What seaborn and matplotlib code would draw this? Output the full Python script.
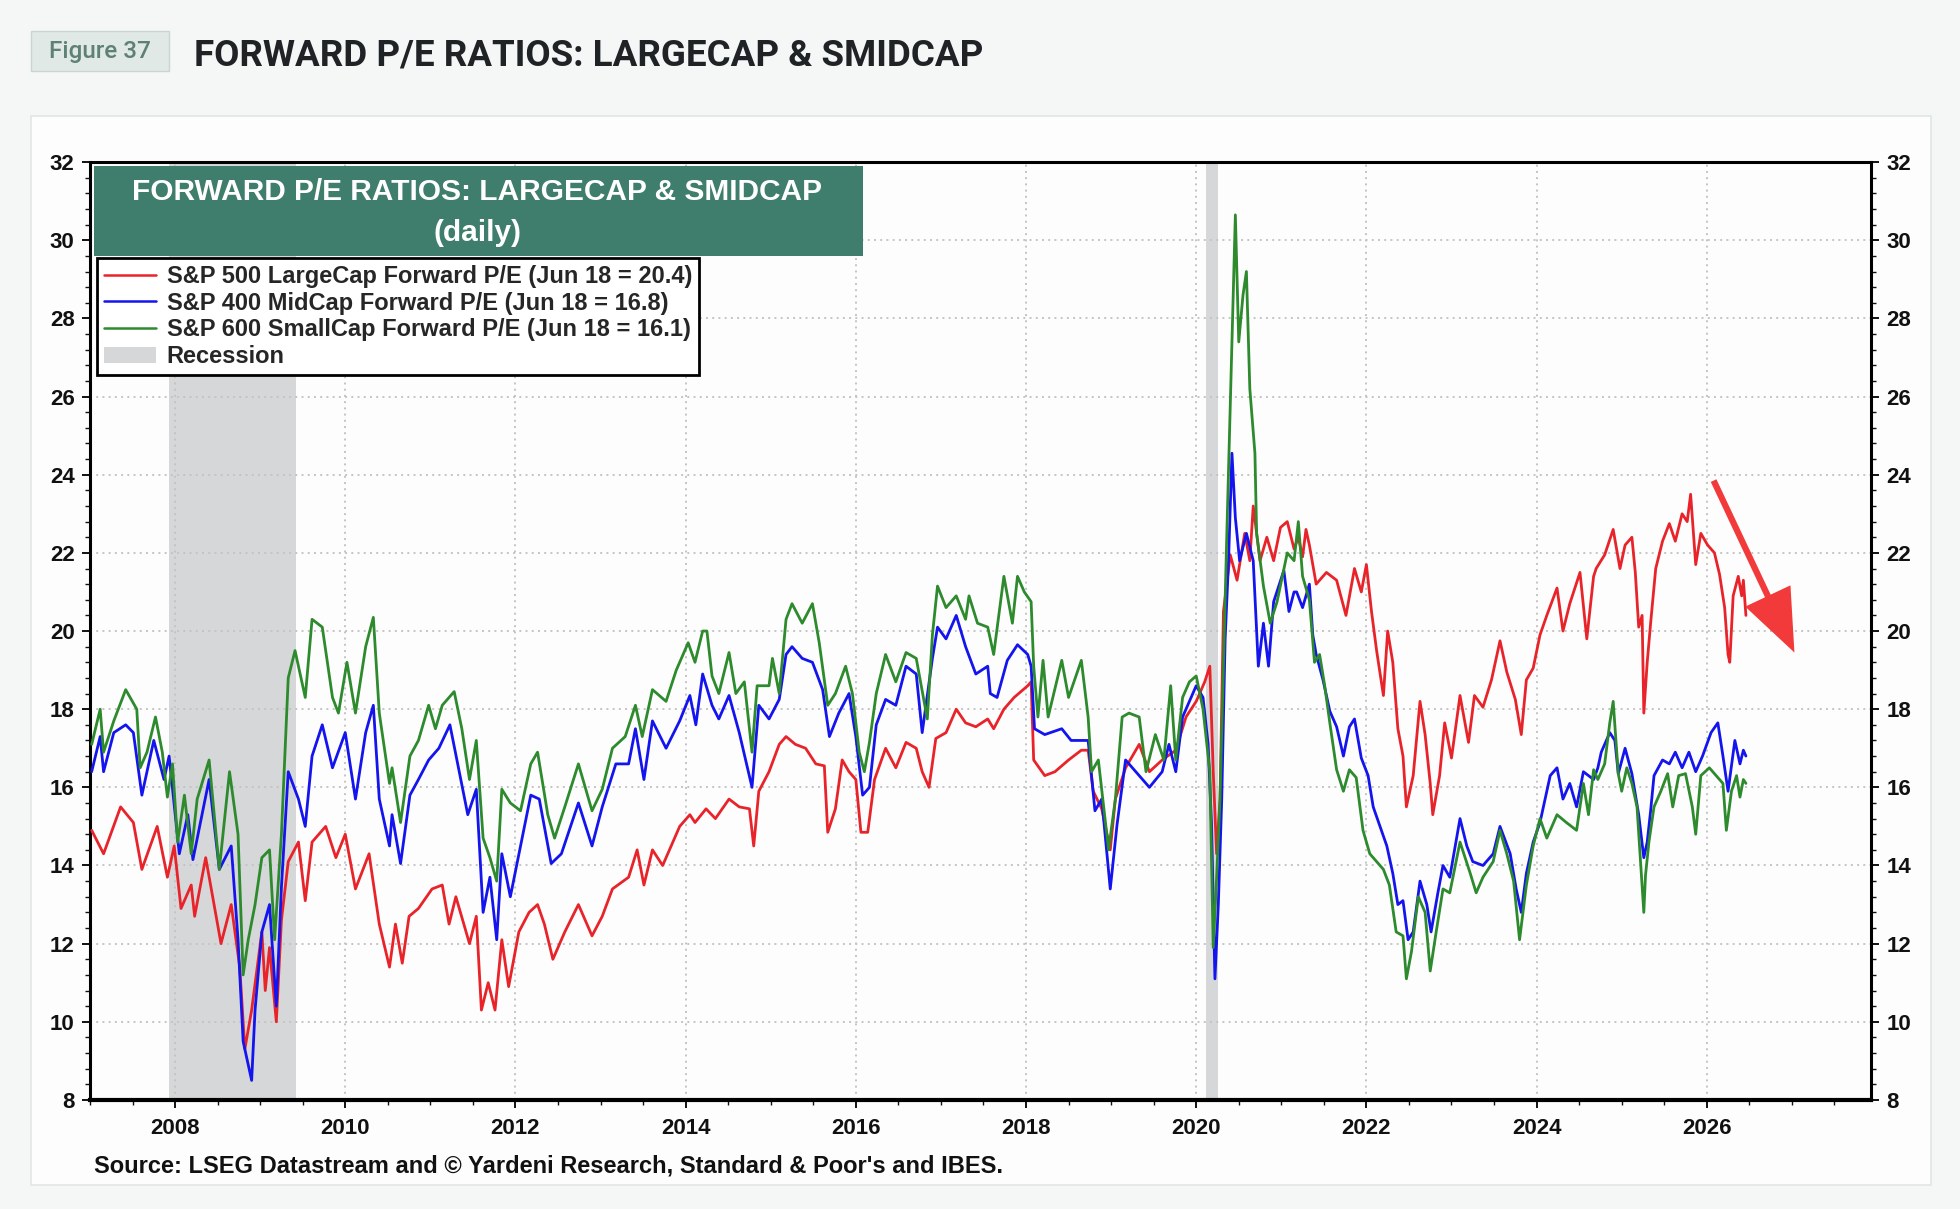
import matplotlib
matplotlib.use("Agg")
import matplotlib.pyplot as plt
from matplotlib.patches import Rectangle, Patch
from matplotlib.lines import Line2D
from matplotlib.ticker import MultipleLocator
import pandas as pd
import seaborn as sns

sns.set_theme(style="white")
plt.rcParams['font.family'] = ['Liberation Sans', 'DejaVu Sans']

# ---- data (decimal year, forward P/E) ----
sp500_year = [
    2007.02, 2007.16, 2007.36, 2007.51, 2007.61, 2007.79, 2007.91, 2007.99, 2008.07, 2008.19,
    2008.23, 2008.36, 2008.54, 2008.66, 2008.76, 2008.82, 2008.90, 2009.02, 2009.06, 2009.11,
    2009.19, 2009.25, 2009.33, 2009.45, 2009.53, 2009.61, 2009.77, 2009.89, 2010.00, 2010.12,
    2010.28, 2010.40, 2010.52, 2010.59, 2010.67, 2010.75, 2010.86, 2011.02, 2011.14, 2011.22,
    2011.30, 2011.46, 2011.54, 2011.60, 2011.68, 2011.76, 2011.84, 2011.92, 2012.04, 2012.16,
    2012.26, 2012.34, 2012.44, 2012.58, 2012.74, 2012.90, 2013.02, 2013.14, 2013.33, 2013.43,
    2013.51, 2013.61, 2013.73, 2013.81, 2013.93, 2014.05, 2014.11, 2014.24, 2014.35, 2014.51,
    2014.63, 2014.75, 2014.80, 2014.86, 2014.98, 2015.10, 2015.18, 2015.29, 2015.41, 2015.53,
    2015.63, 2015.67, 2015.76, 2015.84, 2015.92, 2016.00, 2016.06, 2016.14, 2016.22, 2016.35,
    2016.47, 2016.59, 2016.71, 2016.78, 2016.86, 2016.94, 2017.06, 2017.18, 2017.29, 2017.41,
    2017.55, 2017.62, 2017.74, 2017.86, 2018.02, 2018.06, 2018.09, 2018.22, 2018.34, 2018.50,
    2018.65, 2018.73, 2018.79, 2018.89, 2018.99, 2019.05, 2019.17, 2019.33, 2019.45, 2019.60,
    2019.76, 2019.88, 2020.00, 2020.10, 2020.16, 2020.20, 2020.24, 2020.28, 2020.32, 2020.40,
    2020.48, 2020.57, 2020.63, 2020.67, 2020.75, 2020.83, 2020.91, 2020.99, 2021.07, 2021.15,
    2021.20, 2021.25, 2021.29, 2021.33, 2021.41, 2021.53, 2021.65, 2021.76, 2021.86, 2021.94,
    2022.00, 2022.06, 2022.12, 2022.20, 2022.25, 2022.31, 2022.37, 2022.43, 2022.47, 2022.55,
    2022.63, 2022.69, 2022.75, 2022.78, 2022.86, 2022.92, 2023.00, 2023.10, 2023.20, 2023.27,
    2023.37, 2023.47, 2023.57, 2023.65, 2023.75, 2023.82, 2023.88, 2023.96, 2024.04, 2024.12,
    2024.24, 2024.31, 2024.39, 2024.51, 2024.59, 2024.67, 2024.70, 2024.80, 2024.90, 2024.98,
    2025.04, 2025.12, 2025.16, 2025.20, 2025.24, 2025.26, 2025.30, 2025.34, 2025.40, 2025.48,
    2025.56, 2025.63, 2025.71, 2025.77, 2025.81, 2025.87, 2025.93, 2026.01, 2026.09, 2026.15,
    2026.21, 2026.25, 2026.27, 2026.31, 2026.37, 2026.41, 2026.43, 2026.46]
sp500_pe = [
    14.9, 14.3, 15.5, 15.1, 13.9, 15.0, 13.7, 14.5, 12.9, 13.5,
    12.7, 14.2, 12.0, 13.0, 11.4, 9.3, 10.3, 12.3, 10.8, 11.9,
    10.0, 12.6, 14.1, 14.6, 13.1, 14.6, 15.0, 14.2, 14.8, 13.4,
    14.3, 12.5, 11.4, 12.5, 11.5, 12.7, 12.9, 13.4, 13.5, 12.5,
    13.2, 12.0, 12.7, 10.3, 11.0, 10.3, 12.1, 10.9, 12.3, 12.8,
    13.0, 12.5, 11.6, 12.3, 13.0, 12.2, 12.7, 13.4, 13.7, 14.4,
    13.5, 14.4, 14.0, 14.4, 15.0, 15.3, 15.1, 15.45, 15.2, 15.7,
    15.5, 15.45, 14.5, 15.9, 16.4, 17.1, 17.3, 17.1, 17.0, 16.6,
    16.55, 14.85, 15.45, 16.7, 16.4, 16.2, 14.85, 14.85, 16.2, 17.0,
    16.5, 17.15, 17.0, 16.4, 16.0, 17.25, 17.4, 18.0, 17.65, 17.55,
    17.75, 17.5, 18.0, 18.3, 18.6, 18.7, 16.7, 16.3, 16.4, 16.7,
    16.95, 16.95, 15.9, 15.45, 14.4, 15.7, 16.5, 17.1, 16.4, 16.7,
    16.95, 17.8, 18.2, 18.7, 19.1, 16.4, 14.3, 15.7, 20.5, 21.95,
    21.3, 22.5, 21.8, 23.2, 21.8, 22.4, 21.8, 22.65, 22.8, 22.1,
    22.4, 21.9, 22.6, 22.2, 21.2, 21.5, 21.3, 20.4, 21.6, 21.0,
    21.7, 20.5, 19.5, 18.35, 20.0, 19.2, 17.5, 16.8, 15.5, 16.3,
    18.2, 17.35, 16.1, 15.3, 16.3, 17.65, 16.75, 18.35, 17.15, 18.35,
    18.05, 18.75, 19.75, 18.95, 18.25, 17.35, 18.75, 19.05, 19.9, 20.4,
    21.1, 20.0, 20.7, 21.5, 19.8, 21.4, 21.6, 21.95, 22.6, 21.6,
    22.2, 22.4, 21.5, 20.1, 20.4, 17.9, 19.2, 20.2, 21.6, 22.3,
    22.75, 22.3, 23.0, 22.8, 23.5, 21.7, 22.5, 22.2, 22.0, 21.45,
    20.6, 19.4, 19.2, 20.9, 21.4, 20.9, 21.3, 20.4]

sp400_year = [
    2007.02, 2007.12, 2007.16, 2007.28, 2007.42, 2007.51, 2007.61, 2007.75, 2007.87, 2007.93,
    2008.05, 2008.15, 2008.21, 2008.40, 2008.52, 2008.66, 2008.74, 2008.80, 2008.90, 2008.94,
    2009.02, 2009.11, 2009.19, 2009.25, 2009.33, 2009.45, 2009.53, 2009.61, 2009.73, 2009.85,
    2010.00, 2010.12, 2010.24, 2010.33, 2010.40, 2010.52, 2010.55, 2010.65, 2010.76, 2010.86,
    2010.98, 2011.10, 2011.23, 2011.33, 2011.44, 2011.54, 2011.62, 2011.70, 2011.78, 2011.84,
    2011.94, 2012.06, 2012.18, 2012.28, 2012.42, 2012.54, 2012.74, 2012.90, 2013.02, 2013.18,
    2013.33, 2013.41, 2013.51, 2013.61, 2013.77, 2013.93, 2014.05, 2014.12, 2014.20, 2014.31,
    2014.39, 2014.51, 2014.63, 2014.78, 2014.86, 2014.98, 2015.10, 2015.18, 2015.25, 2015.37,
    2015.49, 2015.61, 2015.69, 2015.80, 2015.92, 2016.00, 2016.08, 2016.16, 2016.24, 2016.35,
    2016.47, 2016.59, 2016.71, 2016.78, 2016.90, 2016.96, 2017.06, 2017.18, 2017.29, 2017.41,
    2017.55, 2017.58, 2017.66, 2017.78, 2017.90, 2018.02, 2018.06, 2018.10, 2018.22, 2018.42,
    2018.53, 2018.73, 2018.81, 2018.89, 2018.99, 2019.07, 2019.17, 2019.29, 2019.45, 2019.60,
    2019.68, 2019.76, 2019.84, 2020.00, 2020.08, 2020.14, 2020.18, 2020.22, 2020.26, 2020.30,
    2020.34, 2020.38, 2020.42, 2020.46, 2020.51, 2020.59, 2020.67, 2020.73, 2020.79, 2020.85,
    2020.91, 2021.03, 2021.09, 2021.15, 2021.18, 2021.25, 2021.33, 2021.37, 2021.41, 2021.49,
    2021.57, 2021.65, 2021.73, 2021.80, 2021.86, 2021.94, 2022.02, 2022.08, 2022.16, 2022.24,
    2022.31, 2022.37, 2022.43, 2022.49, 2022.55, 2022.63, 2022.71, 2022.76, 2022.84, 2022.90,
    2022.98, 2023.10, 2023.18, 2023.25, 2023.37, 2023.49, 2023.57, 2023.69, 2023.76, 2023.82,
    2023.88, 2023.96, 2024.04, 2024.16, 2024.24, 2024.31, 2024.39, 2024.47, 2024.55, 2024.67,
    2024.72, 2024.76, 2024.86, 2024.92, 2024.96, 2025.04, 2025.12, 2025.20, 2025.26, 2025.30,
    2025.34, 2025.38, 2025.48, 2025.56, 2025.63, 2025.71, 2025.79, 2025.87, 2025.95, 2026.05,
    2026.13, 2026.19, 2026.25, 2026.33, 2026.39, 2026.43, 2026.46]
sp400_pe = [
    16.4, 17.3, 16.4, 17.4, 17.6, 17.4, 15.8, 17.2, 16.2, 16.8,
    14.3, 15.3, 14.15, 16.2, 13.9, 14.5, 12.1, 9.5, 8.5, 10.3,
    12.3, 13.0, 10.4, 13.45, 16.4, 15.7, 15.0, 16.8, 17.6, 16.5,
    17.4, 15.7, 17.4, 18.1, 15.7, 14.5, 15.3, 14.05, 15.8, 16.2,
    16.7, 17.0, 17.6, 16.5, 15.3, 15.95, 12.8, 13.7, 12.1, 14.3,
    13.2, 14.5, 15.8, 15.7, 14.05, 14.3, 15.6, 14.5, 15.5, 16.6,
    16.6, 17.5, 16.2, 17.7, 17.0, 17.7, 18.35, 17.6, 18.9, 18.1,
    17.75, 18.35, 17.4, 16.0, 18.1, 17.75, 18.25, 19.4, 19.6, 19.3,
    19.2, 18.5, 17.3, 17.9, 18.4, 17.3, 15.8, 16.0, 17.6, 18.25,
    18.1, 19.1, 18.9, 17.4, 19.3, 20.1, 19.8, 20.4, 19.6, 18.9,
    19.1, 18.4, 18.3, 19.25, 19.65, 19.4, 19.1, 17.5, 17.35, 17.5,
    17.2, 17.2, 15.4, 15.7, 13.4, 15.05, 16.7, 16.4, 16.0, 16.4,
    17.1, 16.4, 17.8, 18.6, 18.3, 17.1, 15.05, 11.1, 13.0, 15.7,
    19.8, 21.8, 24.55, 22.9, 21.8, 22.5, 21.8, 19.1, 20.2, 19.1,
    20.75, 21.55, 20.5, 21.0, 21.0, 20.6, 21.2, 19.9, 19.4, 18.75,
    17.95, 17.55, 16.8, 17.55, 17.75, 16.75, 16.3, 15.5, 15.0, 14.5,
    13.8, 13.0, 13.1, 12.1, 12.3, 13.6, 13.0, 12.3, 13.3, 14.0,
    13.7, 15.2, 14.5, 14.1, 14.0, 14.3, 15.0, 14.3, 13.4, 12.8,
    13.8, 14.6, 15.1, 16.3, 16.5, 15.7, 16.1, 15.5, 16.4, 16.2,
    16.5, 16.9, 17.4, 17.2, 16.35, 17.0, 16.35, 15.3, 14.2, 14.6,
    15.4, 16.3, 16.7, 16.6, 16.9, 16.5, 16.9, 16.4, 16.8, 17.4,
    17.65, 16.8, 15.9, 17.2, 16.6, 16.95, 16.8]

sp600_year = [
    2007.02, 2007.12, 2007.16, 2007.28, 2007.42, 2007.55, 2007.59, 2007.67, 2007.77, 2007.85,
    2007.91, 2007.97, 2008.03, 2008.11, 2008.19, 2008.26, 2008.40, 2008.52, 2008.64, 2008.74,
    2008.80, 2008.86, 2008.94, 2009.02, 2009.11, 2009.17, 2009.25, 2009.33, 2009.41, 2009.53,
    2009.61, 2009.73, 2009.85, 2009.92, 2010.02, 2010.12, 2010.24, 2010.33, 2010.40, 2010.52,
    2010.55, 2010.65, 2010.76, 2010.86, 2010.98, 2011.06, 2011.14, 2011.28, 2011.37, 2011.46,
    2011.54, 2011.62, 2011.70, 2011.78, 2011.84, 2011.94, 2012.06, 2012.18, 2012.26, 2012.38,
    2012.46, 2012.58, 2012.74, 2012.90, 2013.02, 2013.14, 2013.29, 2013.41, 2013.49, 2013.61,
    2013.77, 2013.89, 2014.03, 2014.11, 2014.20, 2014.25, 2014.31, 2014.39, 2014.51, 2014.59,
    2014.69, 2014.78, 2014.84, 2014.98, 2015.02, 2015.10, 2015.18, 2015.25, 2015.37, 2015.49,
    2015.57, 2015.67, 2015.76, 2015.88, 2015.96, 2016.04, 2016.10, 2016.16, 2016.24, 2016.35,
    2016.47, 2016.59, 2016.71, 2016.84, 2016.90, 2016.96, 2017.06, 2017.18, 2017.29, 2017.33,
    2017.43, 2017.55, 2017.62, 2017.74, 2017.84, 2017.90, 2017.98, 2018.06, 2018.09, 2018.14,
    2018.20, 2018.26, 2018.42, 2018.50, 2018.65, 2018.73, 2018.77, 2018.85, 2018.97, 2019.05,
    2019.13, 2019.21, 2019.33, 2019.41, 2019.52, 2019.62, 2019.70, 2019.76, 2019.84, 2019.92,
    2020.00, 2020.08, 2020.16, 2020.20, 2020.24, 2020.28, 2020.32, 2020.36, 2020.42, 2020.46,
    2020.50, 2020.55, 2020.59, 2020.63, 2020.69, 2020.71, 2020.79, 2020.87, 2020.95, 2021.07,
    2021.15, 2021.20, 2021.25, 2021.33, 2021.39, 2021.45, 2021.51, 2021.57, 2021.65, 2021.73,
    2021.80, 2021.88, 2021.96, 2022.04, 2022.12, 2022.20, 2022.27, 2022.35, 2022.43, 2022.47,
    2022.53, 2022.61, 2022.69, 2022.75, 2022.82, 2022.90, 2022.98, 2023.10, 2023.22, 2023.29,
    2023.37, 2023.49, 2023.57, 2023.65, 2023.73, 2023.80, 2023.88, 2023.96, 2024.04, 2024.12,
    2024.24, 2024.35, 2024.47, 2024.55, 2024.61, 2024.67, 2024.72, 2024.80, 2024.86, 2024.90,
    2024.96, 2025.00, 2025.06, 2025.12, 2025.18, 2025.26, 2025.28, 2025.32, 2025.38, 2025.46,
    2025.54, 2025.60, 2025.67, 2025.75, 2025.83, 2025.87, 2025.93, 2026.03, 2026.11, 2026.19,
    2026.23, 2026.29, 2026.35, 2026.39, 2026.43, 2026.46]
sp600_pe = [
    17.1, 18.0, 16.9, 17.7, 18.5, 18.0, 16.5, 16.9, 17.8, 16.9,
    15.75, 16.6, 14.6, 15.8, 14.3, 15.7, 16.7, 13.9, 16.4, 14.8,
    11.2, 12.1, 13.0, 14.2, 14.4, 12.1, 14.8, 18.8, 19.5, 18.3,
    20.3, 20.1, 18.3, 17.9, 19.2, 17.9, 19.6, 20.35, 17.9, 16.1,
    16.5, 15.1, 16.8, 17.2, 18.1, 17.5, 18.1, 18.45, 17.5, 16.2,
    17.2, 14.7, 14.2, 13.6, 15.95, 15.6, 15.4, 16.6, 16.9, 15.3,
    14.7, 15.5, 16.6, 15.4, 15.95, 17.0, 17.3, 18.1, 17.3, 18.5,
    18.2, 19.0, 19.7, 19.2, 20.0, 20.0, 18.85, 18.4, 19.45, 18.4,
    18.7, 16.9, 18.6, 18.6, 19.3, 18.4, 20.3, 20.7, 20.2, 20.7,
    19.7, 18.1, 18.4, 19.1, 18.4, 16.9, 16.4, 17.15, 18.4, 19.4,
    18.7, 19.45, 19.3, 17.75, 19.9, 21.15, 20.6, 20.9, 20.3, 20.9,
    20.2, 20.1, 19.4, 21.4, 20.2, 21.4, 21.0, 20.75, 19.1, 17.8,
    19.25, 17.8, 19.25, 18.3, 19.25, 17.8, 16.4, 16.7, 14.4, 15.7,
    17.8, 17.9, 17.8, 16.4, 17.35, 16.7, 18.6, 16.7, 18.3, 18.7,
    18.85, 18.0, 16.4, 11.9, 13.7, 15.7, 19.1, 22.5, 27.4, 30.65,
    27.4, 28.6, 29.2, 26.2, 24.55, 22.5, 21.15, 20.2, 20.75, 22.0,
    21.8, 22.8, 21.4, 20.8, 19.2, 19.4, 18.6, 17.65, 16.45, 15.9,
    16.45, 16.25, 14.9, 14.3, 14.1, 13.9, 13.5, 12.3, 12.2, 11.1,
    11.8, 13.2, 12.8, 11.3, 12.3, 13.4, 13.3, 14.6, 13.8, 13.3,
    13.7, 14.1, 14.9, 14.3, 13.6, 12.1, 13.5, 14.5, 15.2, 14.7,
    15.3, 15.1, 14.9, 16.1, 15.3, 16.45, 16.2, 16.6, 17.65, 18.2,
    16.35, 15.9, 16.5, 16.1, 15.5, 12.8, 13.75, 14.6, 15.5, 15.9,
    16.35, 15.5, 16.3, 16.35, 15.5, 14.8, 16.3, 16.5, 16.3, 16.1,
    14.9, 15.9, 16.3, 15.75, 16.2, 16.1]

recessions = [(2007.93, 2009.42), (2020.11, 2020.26)]

series_labels = [
    "S&P 500 LargeCap Forward P/E (Jun 18 = 20.4)",
    "S&P 400 MidCap Forward P/E (Jun 18 = 16.8)",
    "S&P 600 SmallCap Forward P/E (Jun 18 = 16.1)",
]
series_colors = ["#e8242a", "#1414ee", "#2d8a2d"]
y_ticks = list(range(8, 33, 2))
x_ticks = list(range(2008, 2027, 2))

# arrow annotation (data coords)
arrow_start = (2026.08, 23.85)
arrow_end = (2027.03, 19.45)

# ---- figure ----
fig = plt.figure(figsize=(19.6, 12.09), dpi=100, facecolor="#f5f7f7")
fig.patches.append(Rectangle((0.016, 0.020), 0.969, 0.884, transform=fig.transFigure,
                             facecolor="#fdfdfd", edgecolor="#e2e5e5", lw=1.2, zorder=-2))
fig.patches.append(Rectangle((0.0158, 0.9413), 0.0704, 0.0331, transform=fig.transFigure,
                             facecolor="#e1e9e6", edgecolor="#c9d5d1", lw=1.0, zorder=-1))
fig.text(0.0510, 0.9578, "Figure 37", ha="center", va="center", fontsize=17.5,
         color="#5e8075", family=["Roboto", "DejaVu Sans"], fontweight="medium")
fig.text(0.099, 0.9545, "FORWARD P/E RATIOS: LARGECAP & SMIDCAP", ha="left", va="center",
         fontsize=26.5, color="#1f2326", family=["Roboto", "DejaVu Sans"], fontweight="bold")
fig.text(0.048, 0.0356, "Source: LSEG Datastream and \u00a9 Yardeni Research, Standard & Poor's and IBES.",
         ha="left", va="center", fontsize=17, fontweight="bold", color="#111111")

ax = fig.add_axes([0.0459, 0.0902, 0.9087, 0.7757])
ax.set_zorder(2)
ax.set_facecolor("#fdfdfd")

for start, end in recessions:
    ax.axvspan(start, end, color="#d5d7d9", zorder=0.5, lw=0)

frames = [
    pd.DataFrame({"year": sp500_year, "pe": sp500_pe}),
    pd.DataFrame({"year": sp400_year, "pe": sp400_pe}),
    pd.DataFrame({"year": sp600_year, "pe": sp600_pe}),
]
for df, col in zip(frames, series_colors):
    sns.lineplot(data=df, x="year", y="pe", ax=ax, color=col, lw=2.0,
                 estimator=None, sort=False, zorder=3)

ax.set_xlim(2007.0, 2027.93)
ax.set_ylim(8, 32)
ax.set_xlabel("")
ax.set_ylabel("")
ax.set_yticks(y_ticks)
ax.set_xticks(x_ticks)
ax.yaxis.set_minor_locator(MultipleLocator(0.4))
ax.xaxis.set_minor_locator(MultipleLocator(0.5))
ax.grid(True, which="major", linestyle=(0, (1, 2.2)), color="#c4c4c4", lw=1.4, zorder=0.8)
ax.tick_params(axis="y", which="both", left=True, right=True, labelleft=True, labelright=True,
               direction="out", labelsize=16, pad=5, colors="#111111")
ax.tick_params(axis="x", which="both", bottom=True, direction="out", labelsize=16, pad=7,
               colors="#111111")
ax.tick_params(which="major", length=6, width=1.4)
ax.tick_params(which="minor", length=3.5, width=1.0)
for lab in ax.get_xticklabels() + ax.get_yticklabels():
    lab.set_fontweight("bold")
for side in ["left", "right", "top"]:
    ax.spines[side].set_color("black")
    ax.spines[side].set_linewidth(2.2)
ax.spines["bottom"].set_color("black")
ax.spines["bottom"].set_linewidth(3.0)

# inner title block
ax.add_patch(Rectangle((0.002, 0.900), 0.432, 0.096, transform=ax.transAxes,
                       facecolor="#3f7d6c", edgecolor="none", zorder=5))
ax.text(0.2175, 0.968, "FORWARD P/E RATIOS: LARGECAP & SMIDCAP", transform=ax.transAxes,
        ha="center", va="center", color="white", fontsize=21.5, fontweight="bold", zorder=6)
ax.text(0.2175, 0.924, "(daily)", transform=ax.transAxes, ha="center", va="center",
        color="white", fontsize=21.5, fontweight="bold", zorder=6)

handles = [Line2D([0], [0], color=c, lw=1.8) for c in series_colors]
handles.append(Patch(facecolor="#d5d7d9", edgecolor="none"))
leg = ax.legend(handles, series_labels + ["Recession"], loc="upper left",
                bbox_to_anchor=(0.004, 0.898), frameon=True, fancybox=False,
                edgecolor="black", framealpha=1, borderpad=0.3, labelspacing=0.16,
                handlelength=2.2, handletextpad=0.45, borderaxespad=0,
                prop={"weight": "bold", "size": 17})
leg.get_frame().set_linewidth(2.0)
leg.set_zorder(6)

ax.annotate("", xy=arrow_end, xytext=arrow_start,
            arrowprops=dict(arrowstyle="simple,head_length=1.5,head_width=1.2,tail_width=0.15",
                            color="#f23a3a", lw=0, mutation_scale=30, shrinkA=0, shrinkB=0),
            zorder=7)

fig.savefig("out.png", dpi=100, facecolor=fig.get_facecolor())
